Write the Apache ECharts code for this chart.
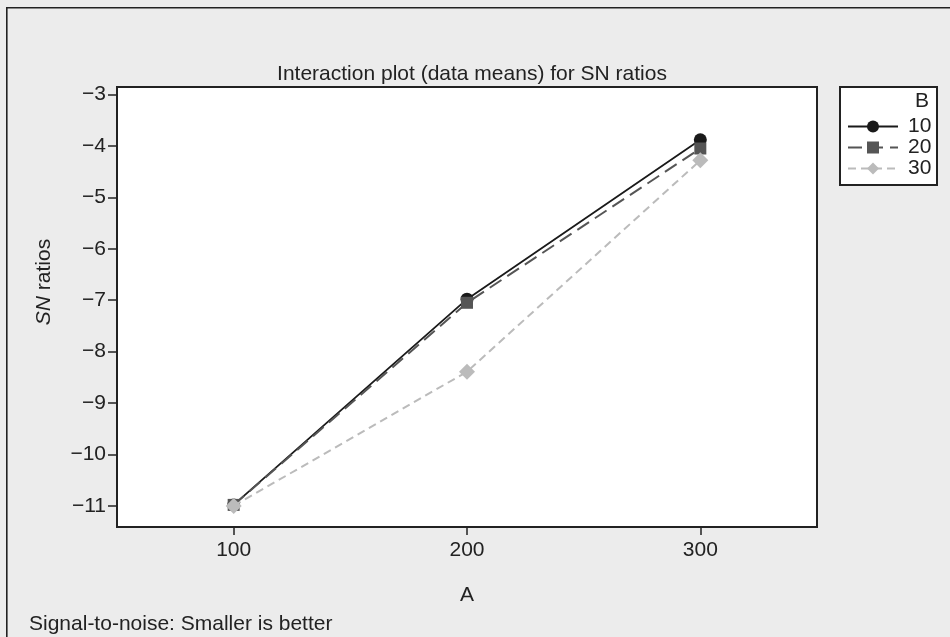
<!DOCTYPE html>
<html>
<head>
<meta charset="utf-8">
<script src="https://cdn.jsdelivr.net/npm/echarts@6/dist/echarts.min.js"></script>
<style>
html,body{margin:0;padding:0;background:#ececec;}
#c{width:950px;height:637px;}
</style>
</head>
<body>
<div id="c"></div>
<script>
const levelsA = [100, 200, 300];
const seriesNames = ['10', '20', '30'];
const b10 = [-10.98, -6.98, -3.88];
const b20 = [-10.98, -7.05, -4.05];
const b30 = [-11.0, -8.39, -4.28];
const yTicks = [-11, -10, -9, -8, -7, -6, -5, -4, -3];
const xTicks = [100, 200, 300];

const chart = echarts.init(document.getElementById('c'));
const font = 'Liberation Sans, Arial, sans-serif';
const fmt = v => String(v).replace('-', '\u2212');
function pts(vals){ return levelsA.map((a,i)=>[a, vals[i]]); }

chart.setOption({
  backgroundColor: '#ececec',
  animation: false,
  title: {
    text: 'Interaction plot (data means) for SN ratios',
    left: 467, top: 59, textAlign: 'center',
    textStyle: {fontFamily: font, fontSize: 21, fontWeight: 'normal', color: '#222'}
  },
  grid: {left: 117, top: 87, width: 700, height: 440, show: true,
         backgroundColor: '#fff', borderColor: '#222', borderWidth: 2},
  xAxis: {
    type: 'value', min: 50, max: 350,
    name: 'A', nameLocation: 'middle', nameGap: 58,
    nameTextStyle: {fontFamily: font, fontSize: 21, color: '#222'},
    axisLine: {show: true, onZero: false, lineStyle: {color: '#222', width: 2}},
    axisTick: {show: true, length: 8, customValues: xTicks, lineStyle: {color: '#222', width: 1.5}},
    axisLabel: {customValues: xTicks, margin: 13, fontFamily: font, fontSize: 21, color: '#222'},
    splitLine: {show: false}
  },
  yAxis: {
    type: 'value', min: -11.41, max: -2.854,
    axisLine: {show: true, onZero: false, lineStyle: {color: '#222', width: 2}},
    axisTick: {show: true, length: 9, customValues: yTicks, lineStyle: {color: '#222', width: 1.5}},
    axisLabel: {customValues: yTicks, margin: 11, formatter: fmt, fontFamily: font, fontSize: 21, color: '#222'},
    splitLine: {show: false}
  },
  legend: {
    orient: 'vertical', left: 847, top: 116, padding: 0, itemWidth: 50, itemHeight: 15, itemGap: 0,
    data: seriesNames,
    textStyle: {fontFamily: font, fontSize: 21, color: '#222', padding: [0, 0, 0, 5]}
  },
  graphic: [
    {type: 'rect', shape: {x: 840, y: 87, width: 97, height: 98},
     style: {fill: '#fff', stroke: '#222', lineWidth: 2}, z: -1},
    {type: 'text', left: 915, top: 91,
     style: {text: 'B', font: '21px Liberation Sans, Arial, sans-serif', fill: '#222'}},
    {type: 'text', x: 44, y: 282, rotation: Math.PI / 2,
     style: {text: '{i|SN} ratios', align: 'center', verticalAlign: 'middle',
       font: '21px Liberation Sans, Arial, sans-serif', fill: '#222',
       rich: {i: {fontFamily: font, fontSize: 21, fontStyle: 'italic', fill: '#222'}}}},
    {type: 'rect', shape: {x: 6, y: 7, width: 1.6, height: 630}, style: {fill: '#222'}},
    {type: 'rect', shape: {x: 6, y: 7, width: 944, height: 1.6}, style: {fill: '#222'}},
    {type: 'text', left: 29, top: 614,
     style: {text: 'Signal-to-noise: Smaller is better', font: '21px Liberation Sans, Arial, sans-serif', fill: '#222'}}
  ],
  series: [
    {name: seriesNames[0], type: 'line', data: pts(b10), symbol: 'circle', symbolSize: 13,
     itemStyle: {color: '#1a1a1a'}, lineStyle: {color: '#1a1a1a', width: 1.8, type: 'solid'}, z: 3},
    {name: seriesNames[1], type: 'line', data: pts(b20), symbol: 'rect', symbolSize: 12,
     itemStyle: {color: '#555'}, lineStyle: {color: '#555', width: 2, type: [14, 7]}, z: 4},
    {name: seriesNames[2], type: 'line', data: pts(b30), symbol: 'diamond', symbolSize: 16,
     itemStyle: {color: '#bbb'}, lineStyle: {color: '#bbb', width: 2, type: [8, 5]}, z: 5}
  ]
});
</script>
</body>
</html>
